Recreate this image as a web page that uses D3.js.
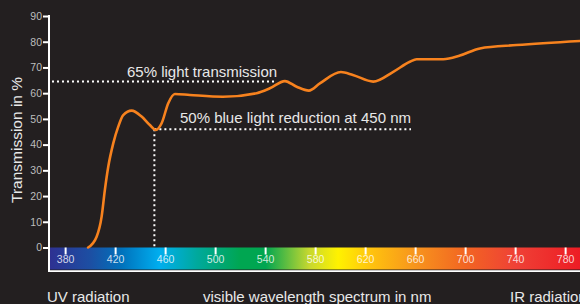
<!DOCTYPE html>
<html><head><meta charset="utf-8">
<script src="https://cdn.jsdelivr.net/npm/d3@7"></script>
<style>
html,body{margin:0;padding:0;background:#231f20;overflow:hidden}
svg{display:block}
text{font-family:"Liberation Sans",Arial,sans-serif}
</style></head>
<body>
<script>
// ---- data ----
const wavelengths = [398, 404.8, 408.8, 411.4, 414.1, 418.1, 422.1, 426.1, 432.8, 440.8, 447.4, 452.2, 456.8, 462.1, 467.4, 479.4, 505.8, 532.8, 543.4, 555.4, 564.8, 574.6, 583.4, 600.2, 609.8, 626.1, 642.1, 655.4, 660.8, 682.1, 695.4, 711.4, 740.8, 791.4];
const transmission = [0, 4.2, 12.0, 22.4, 31.4, 40.5, 47.0, 51.5, 53.2, 50.9, 47.6, 45.7, 48.3, 56.1, 59.7, 59.3, 58.6, 60.0, 61.9, 64.7, 62.5, 61.0, 63.8, 68.2, 67.1, 64.5, 68.3, 72.2, 73.2, 73.2, 74.6, 77.4, 78.7, 80.3];
const xTicks = [380, 420, 460, 500, 540, 580, 620, 660, 700, 740, 780];
const yTicks = [0, 10, 20, 30, 40, 50, 60, 70, 80, 90];
const spectrumStops = [[367.5, "#2e3192"], [400, "#1c4fa3"], [425, "#0072bc"], [455, "#00aeef"], [485, "#00a99d"], [520, "#00a651"], [540, "#00a651"], [575, "#c7d82f"], [598, "#fff200"], [625, "#ffc20e"], [660, "#f7941d"], [700, "#f26522"], [740, "#ef4136"], [791.5, "#ed1c24"]];
const lightLevel = 64.5, lightLabel = "65% light transmission";
const blueNm = 451, blueLevel = 46, blueLabel = "50% blue light reduction at 450 nm";
const xAxisLabels = ["UV radiation", "visible wavelength spectrum in nm", "IR radiation"];
const yAxisLabel = "Transmission in %";

const W = 580, H = 304;
const svg = d3.select("body").append("svg").attr("width", W).attr("height", H);
const x = d3.scaleLinear().domain([367.5, 791.5]).range([50, 580]);
const y = d3.scaleLinear().domain([0, 90]).range([247.5, 16]);

// spectrum gradient
const defs = svg.append("defs");
const grad = defs.append("linearGradient").attr("id", "spec").attr("x1", "0%").attr("x2", "100%");
spectrumStops.forEach(s => grad.append("stop")
  .attr("offset", ((s[0] - 367.5) / (791.5 - 367.5) * 100) + "%").attr("stop-color", s[1]));
svg.append("rect").attr("x", x(367.5)).attr("y", y(0)).attr("width", x(791.5) - x(367.5))
  .attr("height", 22).attr("fill", "url(#spec)");

// bottom white line
svg.append("line").attr("x1", 48).attr("x2", 580).attr("y1", 271.2).attr("y2", 271.2)
  .attr("stroke", "#fff").attr("stroke-width", 1.8);

// x ticks
const xg = svg.append("g");
xTicks.forEach(t => {
  xg.append("line").attr("x1", x(t)).attr("x2", x(t)).attr("y1", y(0)).attr("y2", y(0) + 7)
    .attr("stroke", "#fff").attr("stroke-width", 2);
  xg.append("text").attr("x", x(t)).attr("y", 263).attr("text-anchor", "middle")
    .attr("font-size", 10.5).attr("fill", "#fff").attr("fill-opacity", 0.8).text(t);
});

// y axis
const yAxis = d3.axisLeft(y).tickValues(yTicks).tickSize(6).tickPadding(1);
const yg = svg.append("g").attr("transform", "translate(49,0)").call(yAxis);
yg.select(".domain").remove();
yg.selectAll(".tick line").attr("stroke", "#fff").attr("stroke-width", 2);
yg.selectAll(".tick text").attr("fill", "#bdbdbd").attr("font-size", 10.5)
  .attr("font-family", "Liberation Sans, Arial, sans-serif");
svg.append("line").attr("x1", 49).attr("x2", 49).attr("y1", y(90) - 1).attr("y2", 272)
  .attr("stroke", "#fff").attr("stroke-width", 2);

// dotted reference lines
const dot = {stroke: "#fff", "stroke-width": 2, "stroke-dasharray": "2,3"};
function dl(x1, y1, x2, y2) {
  const l = svg.append("line").attr("x1", x1).attr("y1", y1).attr("x2", x2).attr("y2", y2);
  Object.entries(dot).forEach(([k, v]) => l.attr(k, v));
}
dl(52, y(lightLevel), 277, y(lightLevel));
dl(x(blueNm), y(blueLevel), 411, y(blueLevel));
dl(x(blueNm), y(blueLevel), x(blueNm), y(0));

// curve
const data = wavelengths.map((w, i) => [w, transmission[i]]);
const line = d3.line().x(d => x(d[0])).y(d => y(d[1])).curve(d3.curveMonotoneX);
svg.append("path").attr("d", line(data)).attr("fill", "none")
  .attr("stroke", "#f7821e").attr("stroke-width", 2.6).attr("stroke-linecap", "round");

// annotations
svg.append("text").attr("x", 127).attr("y", 77).attr("font-size", 15).attr("fill", "#e8e8e8").text(lightLabel);
svg.append("text").attr("x", 180).attr("y", 123).attr("font-size", 15).attr("fill", "#e8e8e8").text(blueLabel);

// axis labels
svg.append("text").attr("x", 47).attr("y", 302).attr("font-size", 15).attr("fill", "#e8e8e8").text(xAxisLabels[0]);
svg.append("text").attr("x", 203).attr("y", 302).attr("font-size", 15).attr("fill", "#e8e8e8").text(xAxisLabels[1]);
svg.append("text").attr("x", 510).attr("y", 302).attr("font-size", 15).attr("fill", "#e8e8e8").text(xAxisLabels[2]);
svg.append("text").attr("transform", "translate(22,140) rotate(-90)").attr("text-anchor", "middle")
  .attr("font-size", 15.5).attr("fill", "#e8e8e8").text(yAxisLabel);
</script>
</body></html>
